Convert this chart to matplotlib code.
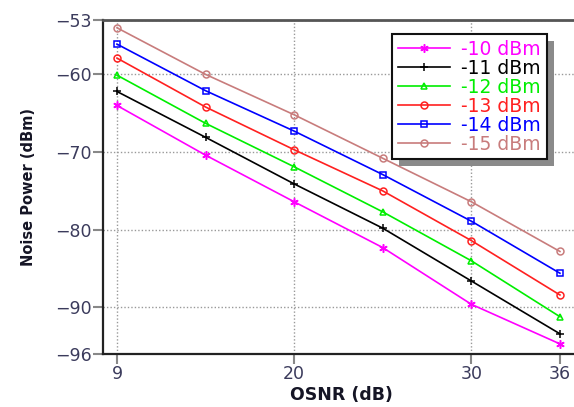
import matplotlib
matplotlib.use("Agg")
import matplotlib.pyplot as plt
import matplotlib.patheffects as pe
import numpy as np

# OSNR sweep points (dB) and the noise power for each launch power
osnr = [9, 15, 20, 25, 30, 36]
tick_osnr = [9, 20, 30, 36]
p10 = [-64.0, -70.4, -76.4, -82.3, -89.6, -94.7]
p11 = [-62.2, -68.1, -74.1, -79.8, -86.6, -93.4]
p12 = [-60.1, -66.3, -71.9, -77.7, -84.0, -91.2]
p13 = [-57.9, -64.2, -69.7, -75.0, -81.4, -88.4]
p14 = [-56.1, -62.1, -67.3, -72.9, -78.9, -85.6]
p15 = [-54.0, -60.0, -65.2, -70.8, -76.4, -82.8]
labels = ['-10 dBm', '-11 dBm', '-12 dBm', '-13 dBm', '-14 dBm', '-15 dBm']
yticks = [-96, -90, -80, -70, -60, -53]

series = [p10, p11, p12, p13, p14, p15]
colors = ['#ff00ff', '#000000', '#00ee00', '#ff2020', '#0000ff', '#c87c7c']
markers = [(6, 2, 0), '+', '^', 'o', 's', 'o']

fig = plt.figure(figsize=(5.74, 4.07), dpi=100)
ax = fig.add_axes([0.1794, 0.1302, 0.831, 0.8206])

# points are evenly spaced along x, so plot against their index
xpos = np.arange(len(osnr))
for y, c, m, lab in zip(series, colors, markers, labels):
    filled = m in ['+', (6, 2, 0)]
    ax.plot(xpos, y, color=c, lw=1.2, marker=m, ms=6 if filled else 5,
            mfc=c if filled else 'none', mec=c, mew=1.1, label=lab)

ax.set_xlim(-0.158, 5.226)
ax.set_ylim(-96, -53)
ax.set_xticks([osnr.index(v) for v in tick_osnr])
ax.set_xticklabels([str(v) for v in tick_osnr])
ax.set_yticks(yticks)

tick_col = '#3b3b5c'
ax.tick_params(axis='both', direction='out', length=7, width=1.5,
               color='#888888', labelsize=12.5, labelcolor=tick_col, pad=1)
ax.grid(True, color='#999999', lw=1, ls=(0, (1, 1.5)))
ax.xaxis.get_gridlines()[-1].set_visible(False)

for side in ['left', 'bottom']:
    ax.spines[side].set_linewidth(1.6)
    ax.spines[side].set_color('#222222')
ax.spines['top'].set_linewidth(2)
ax.spines['top'].set_color('#555555')
ax.spines['right'].set_visible(False)

ax.set_xlabel('OSNR (dB)', fontsize=12.5, fontweight='bold', color='#151525', labelpad=2)
ax.set_ylabel('Noise Power (dBm)', fontsize=10.5, fontweight='bold', color='#151525', labelpad=14)

leg = ax.legend(loc='upper left', bbox_to_anchor=(392 / 574, 1 - 34 / 407),
                bbox_transform=fig.transFigure, borderaxespad=0, fontsize=13.5,
                handlelength=2.8, handletextpad=0.6, labelspacing=0.0,
                borderpad=0.3, fancybox=False, framealpha=1, edgecolor='#111111')
leg.get_frame().set_linewidth(1.5)
leg.get_frame().set_path_effects([pe.SimplePatchShadow(offset=(5, -5), shadow_rgbFace='#8a8a8a', alpha=1), pe.Normal()])
for txt, c in zip(leg.get_texts(), colors):
    txt.set_color(c)

fig.savefig('out.png', dpi=100)
